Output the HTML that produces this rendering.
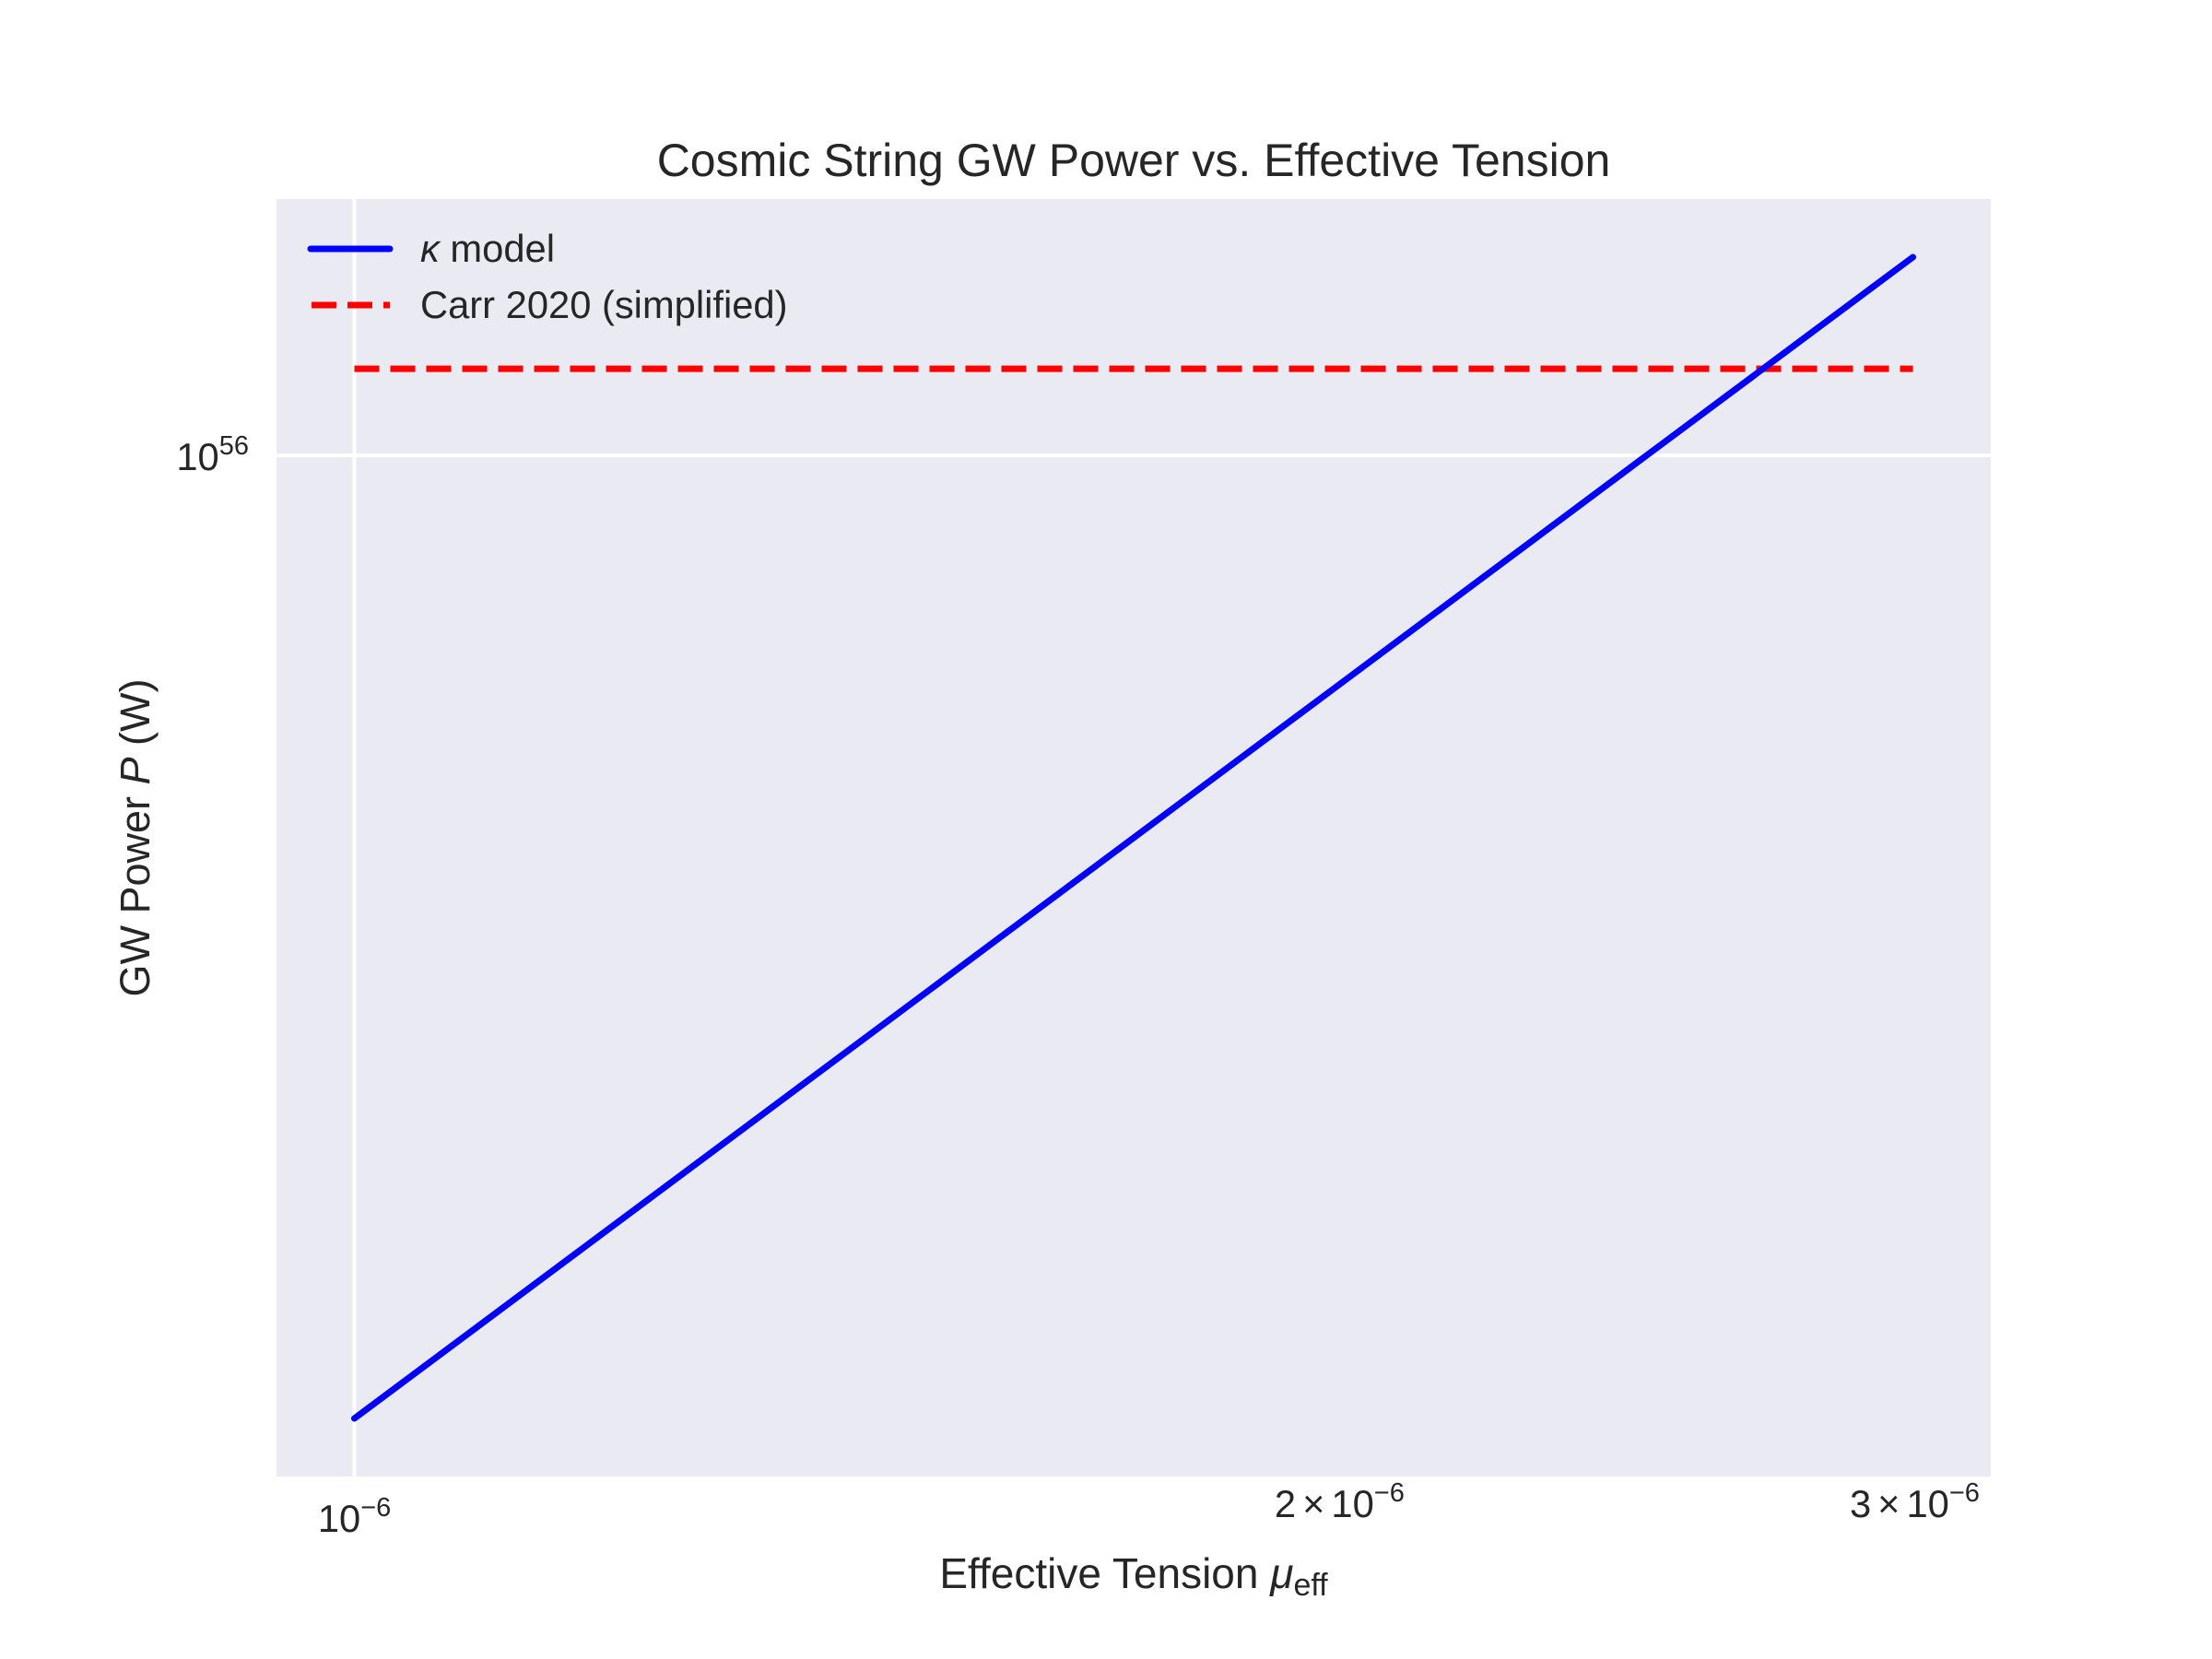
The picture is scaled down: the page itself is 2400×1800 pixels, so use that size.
<!DOCTYPE html>
<html><head><meta charset="utf-8"><style>
html,body{margin:0;padding:0;background:#fff;}
svg{display:block;font-family:"Liberation Sans","DejaVu Sans",sans-serif;}
</style></head><body>
<svg id="chart" width="2400" height="1800" viewBox="0 0 2400 1800">
<rect x="300" y="216" width="1860" height="1386" fill="#EAEAF2"/>
<g id="grid"></g>
<g id="series"></g>
<text x="1230" y="191" font-size="50" fill="#262626" text-anchor="middle">Cosmic String GW Power vs. Effective Tension</text>
<text x="1230" y="1723" font-size="46" fill="#262626" text-anchor="middle">Effective Tension <tspan font-style="italic">μ</tspan><tspan font-size="34" dy="8">eff</tspan></text>
<text transform="translate(162,909) rotate(-90)" font-size="45" fill="#262626" text-anchor="middle">GW Power <tspan font-style="italic">P</tspan> (W)</text>
<g id="ticks"></g>
<g>
<line x1="337" y1="270" x2="423" y2="270" stroke="#0000ff" stroke-width="7" stroke-linecap="round"/>
<text x="456" y="284" font-size="41.7" fill="#262626"><tspan font-style="italic">κ</tspan> model</text>
<line x1="338" y1="331" x2="423" y2="331" stroke="#ff0000" stroke-width="7" stroke-dasharray="27,12"/>
<text x="456" y="345" font-size="41.7" fill="#262626">Carr 2020 (simplified)</text>
</g>
</svg>
<script>
const muValues = [1.0e-6, 1.5e-6, 2.0e-6, 2.5e-6, 3.0e-6];
const kappaPower = [1.617e55, 3.638e55, 6.468e55, 1.0106e56, 1.455e56];
const carrPower = [1.178e56, 1.178e56, 1.178e56, 1.178e56, 1.178e56];
const xMajorTicks = [1e-6];
const xMinorTicks = [2e-6, 3e-6];
const xMinorLabels = ["2", "3"];
const yTicks = [1e56];
const yTickLabels = ["56"];

const NS = "http://www.w3.org/2000/svg";
const L = 300, R = 2160, T = 216, B = 1602;
const lx = v => Math.log10(v);
const allY = kappaPower.concat(carrPower);
const xmin = lx(Math.min(...muValues)), xmax = lx(Math.max(...muValues));
const ymin = lx(Math.min(...allY)), ymax = lx(Math.max(...allY));
const xm = (xmax - xmin) * 0.05, ym = (ymax - ymin) * 0.05;
const xs = v => L + (lx(v) - (xmin - xm)) / ((xmax + xm) - (xmin - xm)) * (R - L);
const ys = v => B - (lx(v) - (ymin - ym)) / ((ymax + ym) - (ymin - ym)) * (B - T);
function mk(tag, attrs, parent) {
  const e = document.createElementNS(NS, tag);
  for (const k in attrs) e.setAttribute(k, attrs[k]);
  document.getElementById(parent).appendChild(e);
  return e;
}
xMajorTicks.forEach(t => {
  const g = mk("line", {x1: xs(t), x2: xs(t), y1: T, y2: B, stroke: "#fff", "stroke-width": 4}, "grid");
  
  
  const tx = mk("text", {x: xs(t), y: 1662, "font-size": 41.7, fill: "#262626", "text-anchor": "middle"}, "ticks");
  
  
  tx.innerHTML = '10<tspan font-size="29" dy="-17">−6</tspan>';
});
yTicks.forEach((t, i) => {
  const g = mk("line", {x1: L, x2: R, y1: ys(t), y2: ys(t), stroke: "#fff", "stroke-width": 4}, "grid");
  
  
  const tx = mk("text", {x: 270, y: ys(t) + 16, "font-size": 41.7, fill: "#262626", "text-anchor": "end"}, "ticks");
  
  
  tx.innerHTML = '10<tspan font-size="29" dy="-17">' + yTickLabels[i] + '</tspan>';
});
xMinorTicks.forEach((t, i) => {
  const tx = mk("text", {x: xs(t) + 2, y: 1646, "font-size": 41.7, fill: "#262626", "text-anchor": "middle"}, "ticks");
  
  
  tx.innerHTML = xMinorLabels[i] + '<tspan dx="7">×</tspan><tspan dx="7">10</tspan><tspan font-size="29" dy="-17">−6</tspan>';
});
const pts = arr => muValues.map((m, i) => xs(m).toFixed(1) + "," + ys(arr[i]).toFixed(1)).join(" ");
const carr = mk("polyline", {points: pts(carrPower), fill: "none", stroke: "#ff0000", "stroke-width": 7, "stroke-dasharray": "27,12"}, "series");


const kap = mk("polyline", {points: pts(kappaPower), fill: "none", stroke: "#0000ff", "stroke-width": 7, "stroke-linecap": "round"}, "series");


</script>
</body></html>
